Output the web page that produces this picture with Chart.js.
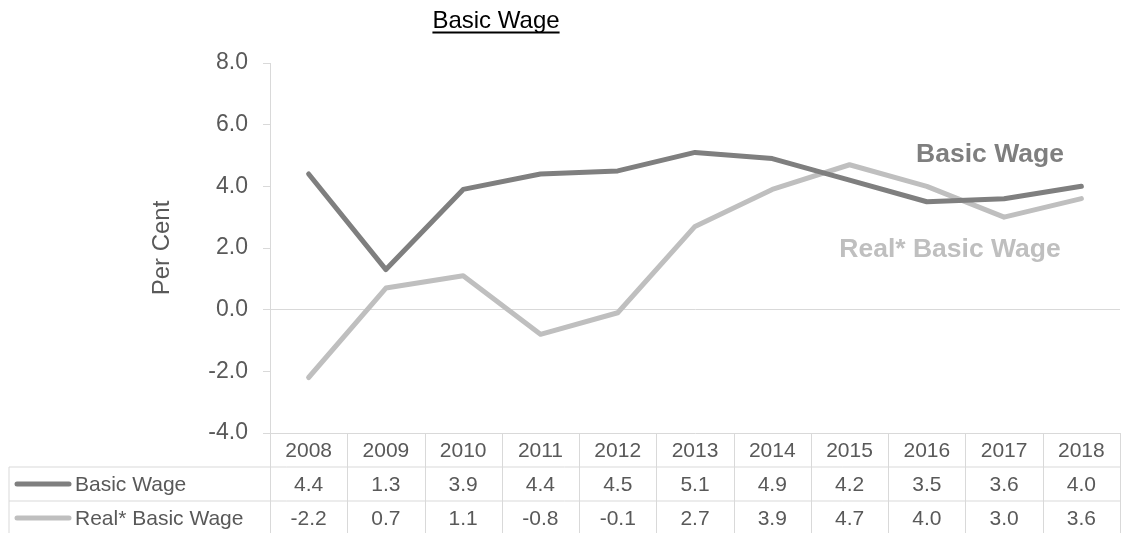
<!DOCTYPE html>
<html>
<head>
<meta charset="utf-8">
<script src="https://cdn.jsdelivr.net/npm/chart.js"></script>
<style>
  html, body { margin: 0; padding: 0; background: #fff; }
  .chart-container { position: relative; width: 1123px; height: 533px; }
</style>
</head>
<body>
<div class="chart-container"><canvas id="chart"></canvas></div>
<script>
'use strict'

const years = ['2008', '2009', '2010', '2011', '2012', '2013', '2014', '2015', '2016', '2017', '2018']
const basicWage = [4.4, 1.3, 3.9, 4.4, 4.5, 5.1, 4.9, 4.2, 3.5, 3.6, 4.0]
const realBasicWage = [-2.2, 0.7, 1.1, -0.8, -0.1, 2.7, 3.9, 4.7, 4.0, 3.0, 3.6]
const seriesNames = ['Basic Wage', 'Real* Basic Wage']
const chartTitle = 'Basic Wage'
const yTitle = 'Per Cent'

const FONT = '"Liberation Sans", Arial, sans-serif'
const TEXT = '#595959'
const GRID = '#d9d9d9'
const DARK = '#7f7f7f'
const LIGHT = '#bfbfbf'

// title, inline series labels and data table underneath
const extras = {
  id: 'extras',
  afterDraw(chart) {
    const { ctx, chartArea } = chart
    const x = chart.scales.x
    const half = (x.getPixelForValue(1) - x.getPixelForValue(0)) / 2
    const top = chartArea.bottom
    const rowH = 34
    const tableLeft = 9
    const right = chartArea.right

    ctx.save()

    // title, underlined
    ctx.font = '24px ' + FONT
    ctx.fillStyle = '#000'
    ctx.textAlign = 'center'
    ctx.textBaseline = 'alphabetic'
    const tx = 496
    const ty = 28
    ctx.fillText(chartTitle, tx, ty)
    const tw = ctx.measureText(chartTitle).width
    ctx.fillRect(tx - tw / 2, ty + 3.5, tw, 2)

    // inline labels
    ctx.font = 'bold 26.5px ' + FONT
    ctx.fillStyle = DARK
    ctx.fillText(seriesNames[0], 990, 162)
    ctx.fillStyle = LIGHT
    ctx.fillText(seriesNames[1], 950, 257)

    // table grid
    ctx.strokeStyle = GRID
    ctx.lineWidth = 1
    ctx.beginPath()
    for (let r = 1; r <= 2; r++) {
      ctx.moveTo(tableLeft, top + r * rowH)
      ctx.lineTo(right, top + r * rowH)
    }
    ctx.moveTo(tableLeft, top + rowH)
    ctx.lineTo(tableLeft, chart.height)
    for (let i = 0; i <= years.length; i++) {
      const cx = Math.round(x.getPixelForValue(0) - half + i * half * 2) + 0.5
      ctx.moveTo(cx, top)
      ctx.lineTo(cx, chart.height)
    }
    ctx.stroke()

    // table text
    ctx.font = '21px ' + FONT
    ctx.fillStyle = TEXT
    ctx.textAlign = 'center'
    ctx.textBaseline = 'middle'
    years.forEach((y, i) => {
      const cx = x.getPixelForValue(i)
      ctx.fillText(y, cx, top + rowH / 2 + 1)
      ctx.fillText(basicWage[i].toFixed(1), cx, top + rowH * 1.5 + 1)
      ctx.fillText(realBasicWage[i].toFixed(1), cx, top + rowH * 2.5 + 1)
    })

    // legend keys
    ;[DARK, LIGHT].forEach((c, r) => {
      const cy = top + rowH * (r + 1.5)
      ctx.strokeStyle = c
      ctx.lineWidth = 5
      ctx.lineCap = 'round'
      ctx.beginPath()
      ctx.moveTo(17, cy)
      ctx.lineTo(69, cy)
      ctx.stroke()
      ctx.textAlign = 'left'
      ctx.fillText(seriesNames[r], 75, cy + 1)
    })

    ctx.restore()
  }
}

new Chart(document.getElementById('chart'), {
  type: 'line',
  data: {
    labels: years,
    datasets: [
      {
        label: seriesNames[0],
        data: basicWage,
        borderColor: DARK,
        backgroundColor: DARK,
        borderWidth: 5,
        pointRadius: 0,
        borderCapStyle: 'round',
        borderJoinStyle: 'round',
        tension: 0
      },
      {
        label: seriesNames[1],
        data: realBasicWage,
        borderColor: LIGHT,
        backgroundColor: LIGHT,
        borderWidth: 5,
        pointRadius: 0,
        borderCapStyle: 'round',
        borderJoinStyle: 'round',
        tension: 0
      }
    ]
  },
  options: {
    responsive: true,
    maintainAspectRatio: false,
    animation: false,
    layout: { padding: { left: 140, top: 63, right: 3, bottom: 100 } },
    plugins: {
      legend: { display: false },
      title: { display: false },
      tooltip: { enabled: false }
    },
    scales: {
      x: {
        display: false,
        offset: true
      },
      y: {
        min: -4,
        max: 8,
        ticks: {
          stepSize: 2,
          padding: 15,
          color: TEXT,
          font: { family: FONT, size: 23 },
          callback: v => v.toFixed(1)
        },
        grid: {
          tickLength: 7,
          tickColor: GRID,
          color: ctx => (ctx.tick && (ctx.tick.value === 0 || ctx.tick.value === -4)) ? GRID : 'rgba(0,0,0,0)',
          lineWidth: 1
        },
        border: { display: true, color: GRID },
        title: {
          display: true,
          text: yTitle,
          color: TEXT,
          font: { family: FONT, size: 24 },
          padding: { top: 8, bottom: 0 }
        },
        afterFit: scale => { scale.width = 130 }
      }
    }
  },
  plugins: [extras]
})
</script>
</body>
</html>
